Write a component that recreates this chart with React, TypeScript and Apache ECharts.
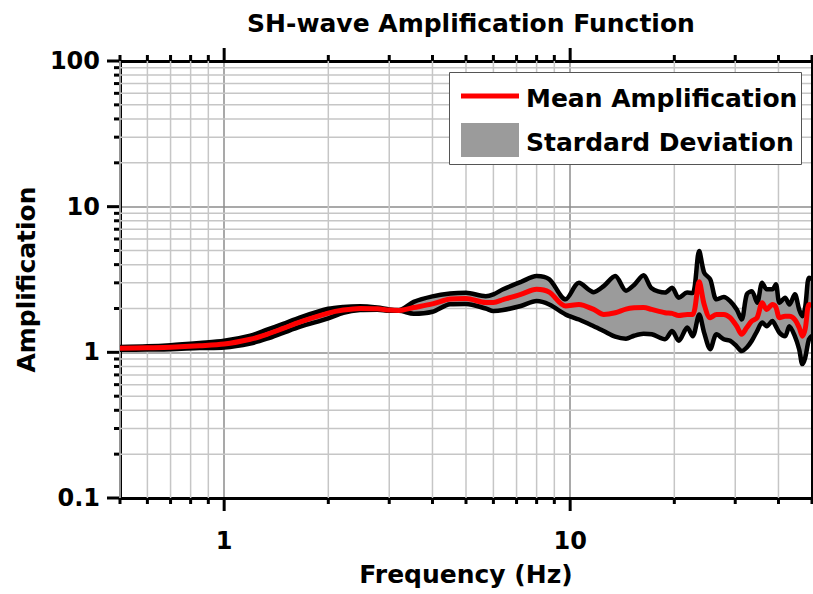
import React, { useEffect, useRef } from "react";
import * as echarts from "echarts";

const FREQ = [0.5, 0.6, 0.7, 0.85, 1.0, 1.19, 1.33, 1.48, 1.66, 2.0, 2.21, 2.47, 2.77, 3.0, 3.2, 3.53, 4.0, 4.5, 5.0, 5.7, 6.0, 6.4, 7.2, 8.0, 8.7, 9.7, 10.6, 11.7, 12.5, 13.5, 14.5, 15.3, 16.3, 17.2, 18.8, 19.7, 20.6, 21.8, 22.6, 23.6, 24.4, 25.4, 26.5, 27.8, 29.0, 30.3, 31.3, 32.4, 33.5, 34.7, 35.9, 37.0, 38.4, 39.3, 40.3, 41.8, 43.0, 44.6, 45.9, 46.9, 47.8, 49.0, 50];
const UPPER = [1.09, 1.10, 1.12, 1.16, 1.20, 1.30, 1.43, 1.57, 1.74, 1.99, 2.05, 2.07, 2.03, 1.97, 1.95, 2.22, 2.42, 2.53, 2.56, 2.43, 2.5, 2.71, 3.04, 3.34, 3.17, 2.31, 3.0, 2.59, 2.85, 3.34, 2.65, 2.9, 3.38, 2.75, 2.57, 2.78, 2.37, 2.57, 2.55, 4.96, 3.52, 3.17, 2.31, 2.4, 2.25, 1.97, 1.68, 2.5, 2.63, 2.19, 3.0, 2.71, 2.71, 2.93, 2.19, 2.37, 2.13, 2.5, 1.97, 1.77, 2.05, 3.25, 3.2];
const LOWER = [1.04, 1.045, 1.05, 1.07, 1.08, 1.15, 1.24, 1.36, 1.50, 1.71, 1.87, 1.95, 1.96, 1.93, 1.93, 1.84, 1.90, 2.14, 2.15, 2.0, 1.92, 1.95, 2.08, 2.25, 2.13, 1.82, 1.68, 1.51, 1.40, 1.28, 1.24, 1.3, 1.34, 1.33, 1.23, 1.40, 1.20, 1.48, 1.29, 1.82, 1.36, 1.05, 1.33, 1.23, 1.20, 1.10, 1.02, 1.08, 1.20, 1.40, 1.6, 1.51, 1.64, 1.51, 1.36, 1.29, 1.51, 1.29, 1.05, 0.83, 0.92, 1.23, 1.3];
const MEAN = [1.065, 1.075, 1.085, 1.11, 1.14, 1.23, 1.33, 1.46, 1.62, 1.86, 1.95, 2.0, 1.99, 1.95, 1.94, 2.03, 2.15, 2.32, 2.34, 2.2, 2.2, 2.3, 2.5, 2.71, 2.59, 2.08, 2.13, 1.97, 1.82, 1.87, 1.98, 2.02, 2.03, 1.97, 1.87, 1.85, 1.79, 1.82, 1.82, 3.05, 2.13, 1.73, 1.82, 1.82, 1.73, 1.51, 1.33, 1.48, 1.64, 1.73, 2.19, 1.97, 2.13, 2.05, 1.73, 1.77, 1.77, 1.68, 1.48, 1.29, 1.45, 2.13, 2.1];

const X_MIN = 0.5;
const X_MAX = 50;
const Y_MIN = 0.1;
const Y_MAX = 100;
const X_TICK_LABELS = ["1", "10"];
const Y_TICK_LABELS = ["0.1", "1", "10", "100"];
const X_MAJOR = [1, 10];
const Y_MAJOR = [0.1, 1, 10, 100];
const X_MINOR = [0.5, 0.6, 0.7, 0.8, 0.9, 2, 3, 4, 5, 6, 7, 8, 9, 20, 30, 40, 50];
const Y_MINOR = [0.2, 0.3, 0.4, 0.5, 0.6, 0.7, 0.8, 0.9, 2, 3, 4, 5, 6, 7, 8, 9, 20, 30, 40, 50, 60, 70, 80, 90];

const TITLE = "SH-wave Amplification Function";
const X_NAME = "Frequency (Hz)";
const Y_NAME = "Amplification";
const LEGEND_MEAN = "Mean Amplification";
const LEGEND_STD = "Stardard Deviation";

const FONT = "'DejaVu Sans', 'Liberation Sans', Arial, sans-serif";

function labelFor(list: string[]) {
  return (v: number) => {
    const hit = list.find((s) => Math.abs(Math.log10(v) - Math.log10(Number(s))) < 1e-6);
    return hit ?? "";
  };
}

export default function App() {
  const ref = useRef<HTMLDivElement>(null);
  useEffect(() => {
    if (!ref.current) return;
    const chart = echarts.init(ref.current, undefined, { renderer: "svg" });

    const MINOR_GRID = "#c6c6c6";
    const MAJOR_LEN = 12;
    const MINOR_LEN = 5;
    const SMOOTH = 0.3;

    const xTickSeries = (vals: number[], major: boolean) => ({
      type: "custom",
      silent: true,
      clip: false,
      z: 1,
      coordinateSystem: "cartesian2d",
      data: vals.map((v) => [v, Y_MIN]),
      renderItem: (params: any, api: any) => {
        const v = api.value(0);
        const b = api.coord([v, Y_MIN]);
        const t = api.coord([v, Y_MAX]);
        const len = major ? MAJOR_LEN : MINOR_LEN;
        const children: any[] = [
          { type: "line", shape: { x1: b[0], y1: b[1] + 1, x2: b[0], y2: b[1] + 1 + len }, style: { stroke: "#000", lineWidth: 3 } },
          { type: "line", shape: { x1: t[0], y1: t[1] - 1, x2: t[0], y2: t[1] - 1 - len }, style: { stroke: "#000", lineWidth: 3 } },
        ];
        if (!major) {
          children.unshift({ type: "line", shape: { x1: b[0], y1: b[1], x2: t[0], y2: t[1] }, style: { stroke: MINOR_GRID, lineWidth: 1.5 } });
        }
        return { type: "group", children };
      },
    });

    const yTickSeries = (vals: number[], major: boolean) => ({
      type: "custom",
      silent: true,
      clip: false,
      z: 1,
      coordinateSystem: "cartesian2d",
      data: vals.map((v) => [X_MIN, v]),
      renderItem: (params: any, api: any) => {
        const v = api.value(1);
        const l = api.coord([X_MIN, v]);
        const r = api.coord([X_MAX, v]);
        const len = major ? MAJOR_LEN : MINOR_LEN;
        const children: any[] = [
          { type: "line", shape: { x1: l[0] - 1, y1: l[1], x2: l[0] - 1 - len, y2: l[1] }, style: { stroke: "#000", lineWidth: 3 } },
          { type: "line", shape: { x1: r[0] + 1, y1: r[1], x2: r[0] + 1 + len, y2: r[1] }, style: { stroke: "#000", lineWidth: 3 } },
        ];
        if (!major) {
          children.unshift({ type: "line", shape: { x1: l[0], y1: l[1], x2: r[0], y2: r[1] }, style: { stroke: MINOR_GRID, lineWidth: 1.5 } });
        }
        return { type: "group", children };
      },
    });

    const axisBase = {
      type: "log",
      logBase: 10,
      axisTick: { show: false },
      minorTick: { show: false },
      axisLine: { show: true, lineStyle: { color: "#000", width: 3 } },
    };

    const textBold = { fontFamily: FONT, fontWeight: "bold", color: "#000" };

    const option: any = {
      animation: false,
      backgroundColor: "#fff",
      title: {
        text: TITLE,
        left: 466,
        top: 6,
        textAlign: "center",
        textStyle: { ...textBold, fontSize: 25 },
      },
      grid: { left: 120, right: 1, top: 61, bottom: 96, containLabel: false },
      xAxis: [
        {
          ...axisBase,
          min: X_MIN,
          max: X_MAX,
          position: "bottom",
          name: X_NAME,
          nameLocation: "middle",
          nameGap: 64,
          nameTextStyle: { ...textBold, fontSize: 25 },
          axisLabel: {
            formatter: labelFor(X_TICK_LABELS),
            margin: 31,
            ...textBold,
            fontSize: 24,
            showMinLabel: false,
            showMaxLabel: false,
          },
          splitLine: { show: true, lineStyle: { color: "#8c8c8c", width: 1.5 } },
        },
        {
          ...axisBase,
          min: X_MIN,
          max: X_MAX,
          position: "top",
          axisLabel: { show: false },
          splitLine: { show: false },
        },
      ],
      yAxis: [
        {
          ...axisBase,
          min: Y_MIN,
          max: Y_MAX,
          position: "left",
          name: Y_NAME,
          nameLocation: "middle",
          nameGap: 79,
          nameRotate: 90,
          nameTextStyle: { ...textBold, fontSize: 25 },
          axisLabel: {
            formatter: labelFor(Y_TICK_LABELS),
            margin: 20,
            ...textBold,
            fontSize: 24,
          },
          splitLine: { show: true, lineStyle: { color: "#8c8c8c", width: 1.5 } },
        },
        {
          ...axisBase,
          min: Y_MIN,
          max: Y_MAX,
          position: "right",
          z: 10,
          axisLabel: { show: false },
          splitLine: { show: false },
        },
      ],
      series: [
        xTickSeries(X_MINOR, false),
        xTickSeries(X_MAJOR, true),
        yTickSeries(Y_MINOR, false),
        yTickSeries(Y_MAJOR, true),
        {
          type: "custom",
          name: LEGEND_STD,
          silent: true,
          clip: true,
          z: 3,
          coordinateSystem: "cartesian2d",
          data: [[FREQ[0], MEAN[0]]],
          renderItem: (params: any, api: any) => {
            const top = FREQ.map((f, i) => api.coord([f, UPPER[i]]));
            const bot = FREQ.map((f, i) => api.coord([f, LOWER[i]]));
            const children = [
              {
                type: "polyline",
                shape: { points: top, smooth: SMOOTH },
                style: { fill: "none", stroke: "#9b9b9b", lineWidth: 1 },
              },
            ];
            // filled band: upper edge forward, lower edge backward
            const pts = top.concat(bot.slice().reverse());
            return {
              type: "group",
              children: [
                { type: "polygon", shape: { points: pts, smooth: SMOOTH }, style: { fill: "#9b9b9b", stroke: "none" } },
              ],
            };
          },
        },
        {
          type: "line",
          silent: true,
          z: 4,
          smooth: SMOOTH,
          showSymbol: false,
          data: FREQ.map((f, i) => [f, UPPER[i]]),
          lineStyle: { color: "#000", width: 4.5, join: "round" },
        },
        {
          type: "line",
          silent: true,
          z: 4,
          smooth: SMOOTH,
          showSymbol: false,
          data: FREQ.map((f, i) => [f, LOWER[i]]),
          lineStyle: { color: "#000", width: 4.5, join: "round" },
        },
        {
          type: "line",
          name: LEGEND_MEAN,
          silent: true,
          z: 5,
          smooth: SMOOTH,
          showSymbol: false,
          data: FREQ.map((f, i) => [f, MEAN[i]]),
          lineStyle: { color: "#ff0000", width: 5, join: "round" },
        },
      ],
      graphic: [
        { type: "rect", z: 100, shape: { x: 449.5, y: 72.5, width: 352, height: 92 }, style: { fill: "#fff", stroke: "#555", lineWidth: 1 } },
        { type: "line", z: 101, shape: { x1: 461, y1: 96, x2: 519, y2: 96 }, style: { stroke: "#ff0000", lineWidth: 5 } },
        { type: "rect", z: 101, shape: { x: 461, y: 123, width: 58, height: 34 }, style: { fill: "#9b9b9b" } },
        { type: "text", z: 101, x: 526, y: 98, style: { text: LEGEND_MEAN, fontFamily: FONT, fontSize: 25, fontWeight: "bold", fill: "#000", verticalAlign: "middle" } },
        { type: "text", z: 101, x: 526, y: 142, style: { text: LEGEND_STD, fontFamily: FONT, fontSize: 25, fontWeight: "bold", fill: "#000", verticalAlign: "middle" } },
      ],
    };

    chart.setOption(option);
    return () => chart.dispose();
  }, []);

  return <div ref={ref} style={{ position: "absolute", left: 0, top: 0, width: 813, height: 594 }} />;
}
